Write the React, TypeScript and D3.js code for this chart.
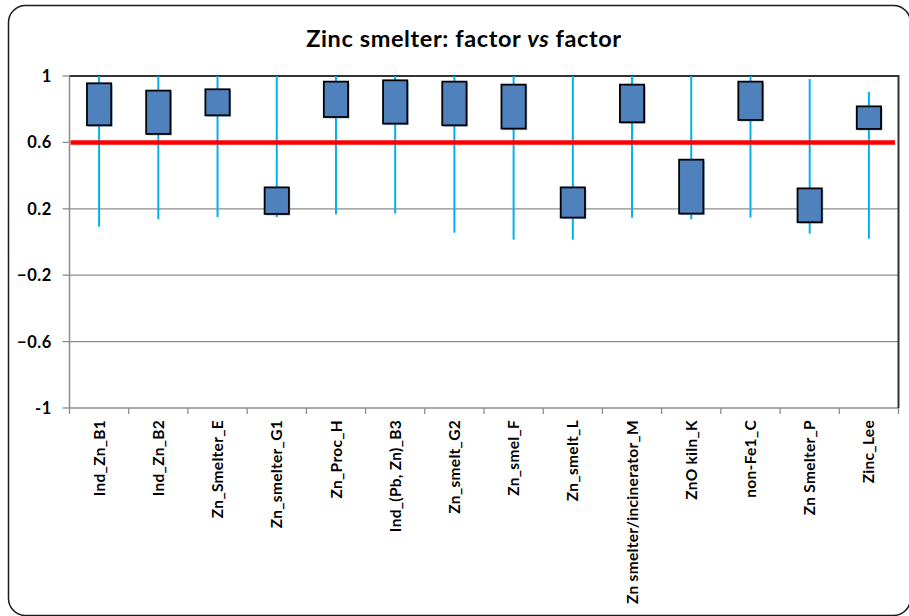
import React from "react";
import * as d3 from "d3";

const categories = [
  "Ind_Zn_B1",
  "Ind_Zn_B2",
  "Zn_Smelter_E",
  "Zn_smelter_G1",
  "Zn_Proc_H",
  "Ind_(Pb, Zn)_B3",
  "Zn_smelt_G2",
  "Zn_smel_F",
  "Zn_smelt_L",
  "Zn smelter/incinerator_M",
  "ZnO kiln_K",
  "non-Fe1_C",
  "Zn Smelter_P",
  "Zinc_Lee",
];
const boxHigh = [0.956, 0.912, 0.92, 0.329, 0.966, 0.974, 0.966, 0.948, 0.329, 0.948, 0.496, 0.966, 0.323, 0.817];
const boxLow = [0.703, 0.651, 0.763, 0.169, 0.753, 0.713, 0.703, 0.683, 0.147, 0.721, 0.171, 0.735, 0.119, 0.681];
const whiskerHigh = [1, 1, 1, 1, 1, 1, 1, 1, 1, 1, 1, 1, 0.982, 0.904];
const whiskerLow = [0.092, 0.137, 0.149, 0.149, 0.167, 0.171, 0.056, 0.014, 0.014, 0.147, 0.137, 0.147, 0.05, 0.02];
const yTicks = [1, 0.6, 0.2, -0.2, -0.6, -1];
const threshold = 0.6;

const W = 909;
const H = 616;
const L = 69.5;
const R = 898.5;
const T = 76;
const B = 408;
const FONT = "Lato, 'Open Sans', sans-serif";

export default function App() {
  const x = d3.scaleBand<string>().domain(categories).range([L, R]).padding(0);
  const y = d3.scaleLinear().domain([-1, 1]).range([B, T]);
  const bw = x.bandwidth() * 0.41;
  const fmt = (v: number) => (v === 1 || v === -1 ? String(v) : d3.format(".1f")(v));
  const boundaries = categories.map((c) => x(c) as number).concat([R]);

  return (
    <svg width={W} height={H} style={{ position: "absolute", left: 0, top: 0 }} fontFamily={FONT}>
      <rect x={0} y={0} width={W} height={H} fill="#fff" />
      <rect x={8.5} y={5.5} width={902} height={610} rx={17} fill="#fff" stroke="#1a1a1a" strokeWidth={1.5} />
      <text x={464} y={47} textAnchor="middle" fontSize={23.5} fontWeight="bold" letterSpacing={0.6} fill="#000">
        Zinc smelter: factor <tspan fontStyle="italic">vs</tspan> factor
      </text>

      {yTicks.filter((t) => t !== 1 && t !== -1 && t !== threshold).map((t) => (
        <line key={"g" + t} x1={L} x2={R} y1={y(t)} y2={y(t)} stroke="#8c8c8c" strokeWidth={1.3} />
      ))}
      {yTicks.map((t) => (
        <g key={"yt" + t}>
          <line x1={L - 7} x2={L} y1={y(t)} y2={y(t)} stroke="#8c8c8c" strokeWidth={1.3} />
          <text x={52} y={y(t)} dy="0.36em" textAnchor="end" fontSize={16.5} fontWeight="bold" letterSpacing={0.6} fill="#000">
            {fmt(t)}
          </text>
        </g>
      ))}
      {boundaries.map((b, i) => (
        <line key={"xt" + i} x1={b} x2={b} y1={B} y2={B + 6} stroke="#8c8c8c" strokeWidth={1.3} />
      ))}
      <line x1={L} x2={R} y1={B} y2={B} stroke="#8c8c8c" strokeWidth={1.5} />
      <line x1={L} x2={L} y1={T} y2={B} stroke="#8c8c8c" strokeWidth={1.5} />
      <line x1={L} x2={R} y1={T} y2={T} stroke="#333" strokeWidth={2} />
      <line x1={R} x2={R} y1={T - 1} y2={B} stroke="#333" strokeWidth={2} />

      {categories.map((c, i) => {
        const cx = (x(c) as number) + x.bandwidth() / 2;
        return (
          <line key={"w" + c} x1={cx} x2={cx} y1={y(whiskerHigh[i])} y2={y(whiskerLow[i])} stroke="#00B0F0" strokeWidth={2} />
        );
      })}

      <line x1={L + 1} x2={895} y1={y(threshold)} y2={y(threshold)} stroke="#FF0000" strokeWidth={4.5} />

      {categories.map((c, i) => {
        const cx = (x(c) as number) + x.bandwidth() / 2;
        const top = y(boxHigh[i]);
        const bot = y(boxLow[i]);
        return (
          <g key={"b" + c}>
            <rect x={cx - bw / 2 + 1.5} y={top + 1.5} width={bw} height={bot - top} fill="#5a7fae" opacity={0.5} />
            <rect x={cx - bw / 2} y={top} width={bw} height={bot - top} fill="#4F81BD" stroke="#000" strokeWidth={1.8} />
          </g>
        );
      })}

      {categories.map((c) => {
        const cx = (x(c) as number) + x.bandwidth() / 2;
        return (
          <text
            key={"xl" + c}
            transform={`translate(${cx},420) rotate(-90)`}
            dy="0.36em"
            textAnchor="end"
            fontSize={15.5}
            fontWeight="bold"
            letterSpacing={0.3}
            fill="#000"
          >
            {c}
          </text>
        );
      })}
    </svg>
  );
}
